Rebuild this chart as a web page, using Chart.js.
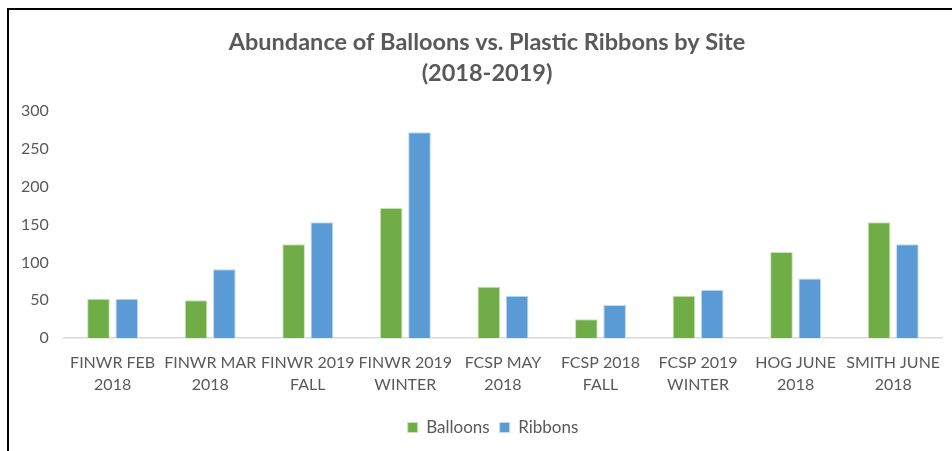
<!DOCTYPE html>
<html>
<head>
<meta charset="utf-8">
<script src="https://cdn.jsdelivr.net/npm/chart.js@4"></script>
<style>
    html, body { margin: 0; padding: 0; background: #fff; }
    .frame { position: absolute; left: 7px; top: 8px; width: 945px; height: 443px;
             border-left: 2px solid #000; border-top: 2px solid #000; }
    .graph { position: absolute; left: 0; top: 0; width: 952px; height: 451px; }
</style>
</head>
<body>
<div class="graph"><canvas id="myChart"></canvas></div>
<div class="frame"></div>
<script>
const sites = [
    ['FINWR FEB', '2018'],
    ['FINWR MAR', '2018'],
    ['FINWR 2019', 'FALL'],
    ['FINWR 2019', 'WINTER'],
    ['FCSP MAY', '2018'],
    ['FCSP 2018', 'FALL'],
    ['FCSP 2019', 'WINTER'],
    ['HOG JUNE', '2018'],
    ['SMITH JUNE', '2018'],
];
const balloons = [52, 50, 124, 172, 68, 25, 56, 114, 153];
const ribbons = [52, 91, 153, 272, 56, 44, 64, 79, 124];
const yTicks = [0, 50, 100, 150, 200, 250, 300];

const textColor = '#595959';
const fontFamily = 'Lato, "Open Sans", sans-serif';

// excel centres title and legend a bit right of the canvas middle
const nudgeBlocks = {
    id: 'nudgeBlocks',
    afterLayout(chart) {
        chart.titleBlock.left += 9;
        chart.titleBlock.right += 9;
        chart.legend.left += 15;
        chart.legend.right += 15;
    },
};

const ctx = document.getElementById('myChart').getContext('2d');

new Chart(ctx, {
    type: 'bar',
    data: {
        labels: sites,
        datasets: [
            {
                label: 'Balloons',
                data: balloons,
                backgroundColor: '#70ad47',
                borderColor: '#c9e2b8',
                borderWidth: 1,
                categoryPercentage: 0.58,
                barPercentage: 0.8,
            },
            {
                label: 'Ribbons',
                data: ribbons,
                backgroundColor: '#5b9bd5',
                borderColor: '#c3dbf1',
                borderWidth: 1,
                categoryPercentage: 0.58,
                barPercentage: 0.8,
            },
        ],
    },
    plugins: [nudgeBlocks],
    options: {
        responsive: true,
        maintainAspectRatio: false,
        animation: false,
        layout: {
            padding: { left: 14, right: 10, top: 27, bottom: 5 },
        },
        plugins: {
            title: {
                display: true,
                text: ['Abundance of Balloons vs. Plastic Ribbons by Site', '(2018-2019)'],
                color: textColor,
                font: { family: fontFamily, size: 23.5, weight: 'bold', lineHeight: 1.32 },
                padding: { top: 0, bottom: 22 },
            },
            legend: {
                position: 'bottom',
                labels: {
                    color: textColor,
                    font: { family: fontFamily, size: 17 },
                    boxWidth: 10,
                    boxHeight: 10,
                    padding: 10,
                },
            },
            tooltip: { enabled: false },
        },
        scales: {
            y: {
                min: 0,
                max: 300,
                afterBuildTicks: (axis) => {
                    axis.ticks = yTicks.map(v => ({ value: v }));
                },
                ticks: {
                    color: textColor,
                    font: { family: fontFamily, size: 16 },
                    padding: 7,
                },
                grid: { display: false },
                border: { display: false },
            },
            x: {
                afterFit: (axis) => {
                    axis.height += 8;
                },
                ticks: {
                    color: textColor,
                    font: { family: fontFamily, size: 16, lineHeight: 1.4 },
                    maxRotation: 0,
                    autoSkip: false,
                    padding: 5,
                },
                grid: { display: false },
                border: { color: '#d9d9d9', width: 1.5 },
            },
        },
    },
});
</script>
</body>
</html>
